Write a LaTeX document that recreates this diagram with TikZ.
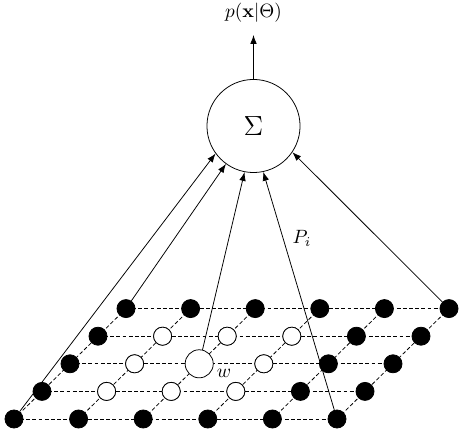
\documentclass[tikz,border=0pt]{standalone}
\usepackage{amsmath, amssymb}
\usetikzlibrary{arrows.meta}

\begin{document}
\begin{tikzpicture}[x=0.52pt, y=-0.52pt, >={Latex[length=4.6pt,width=3.4pt]},
        dot/.style={circle, draw, fill=black, inner sep=0pt, minimum size=9.4pt},
        hole/.style={circle, draw, fill=white, inner sep=0pt, minimum size=9.4pt},
        bighole/.style={circle, draw, fill=white, inner sep=0pt, minimum size=14.6pt},
        gridline/.style={dash pattern=on 2pt off 1.2pt, line width=0.4pt}]
                \useasboundingbox (0,0) rectangle (459,432);
                % lattice points
                \foreach \r in {0,...,4}
                    \foreach \c in {0,...,5}
                        \coordinate (g-\r-\c) at ({14+64.6*\c+28*\r},{419-27.6*\r});
                % dashed lattice
                \foreach \r in {0,...,4}
                    \draw[gridline] (g-\r-0) -- (g-\r-5);
                \foreach \c in {0,...,5}
                    \draw[gridline] (g-0-\c) -- (g-4-\c);
                % points
                \foreach \r in {0,...,4}
                    \foreach \c in {0,...,5}
                        \node[dot] (n-\r-\c) at (g-\r-\c) {};
                \foreach \r in {1,2,3}
                    \foreach \c in {1,2,3}
                        \node[hole] (n-\r-\c) at (g-\r-\c) {};
                \node[bighole] (n-2-2) at (g-2-2) {};
                \node (wlab) at (224,373) {$w$};
                % sum node
                \node[circle, draw, minimum size=48.4pt] (sigma) at (253.5,126) {\Large$\Sigma$};
                \coordinate (out) at (253.5,35);
                \node (px) at (253.5,13) {$p(\mathbf{x}|\Theta)$};
                \draw[->] (sigma) -- (out);
                \draw[->] (n-0-0) -- (sigma.216);
                \draw[->] (n-4-0) -- (sigma.234);
                \draw[->] (n-2-2) -- (sigma.259);
                \draw[->] (n-0-5) -- (sigma.282);
                \draw[->] (n-4-5) -- (sigma.326);
                \node (pi) at (302,238) {$P_i$};
            \end{tikzpicture}
\end{document}
